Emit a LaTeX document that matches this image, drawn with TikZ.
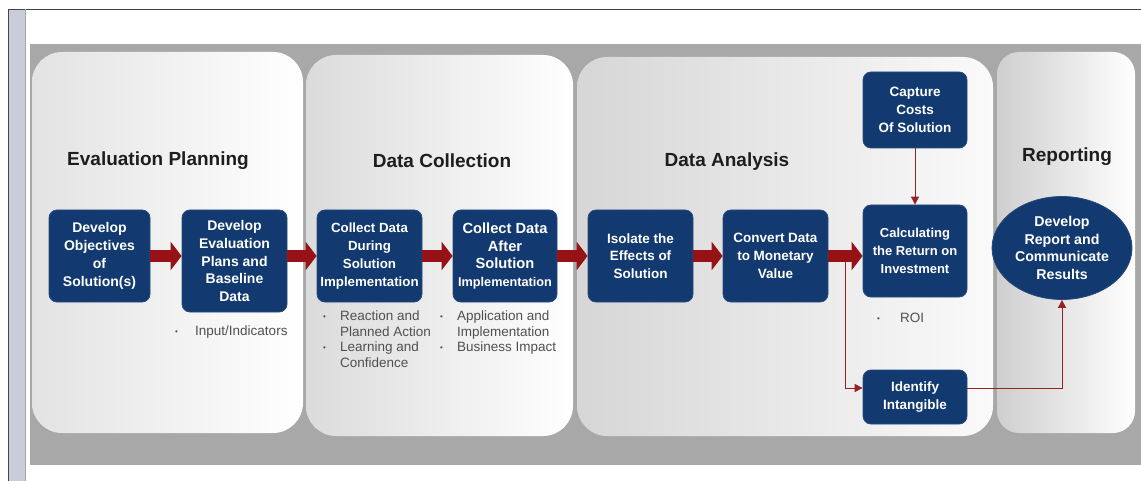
\documentclass[tikz,border=0pt]{standalone}
\usepackage{fontspec}
\setmainfont{Liberation Sans}
\usetikzlibrary{arrows.meta,shapes.geometric}

\definecolor{navy}{RGB}{18,58,112}
\definecolor{navyedge}{RGB}{40,75,125}
\definecolor{arrowred}{RGB}{150,18,22}
\definecolor{linered}{RGB}{150,35,35}
\definecolor{bandgray}{RGB}{168,168,168}
\definecolor{barblue}{RGB}{200,205,216}
\definecolor{framegray}{RGB}{70,70,70}
\definecolor{titlegray}{RGB}{30,30,30}
\definecolor{notegray}{RGB}{80,80,80}

\newcommand\bul[1]{\makebox[#1][l]{\raisebox{1pt}{\fontsize{8}{8}\selectfont •}}}
\newcommand\fs[1]{\fontsize{#1}{17.8}\selectfont}

\begin{document}
\begin{tikzpicture}[x=1pt,y=-1pt,
  panel/.style={rounded corners=30pt, right color=white},
  stepbox/.style={rectangle, rounded corners=8pt, fill=navy, draw=navyedge,
    line width=0.8pt, text=white, align=center, inner sep=1pt,
    font=\bfseries\fontsize{13.5}{17.8}\selectfont},
  phase/.style={font=\bfseries\fontsize{19}{22}\selectfont, text=titlegray},
  note/.style={text=notegray, font=\fontsize{13.5}{15.5}\selectfont,
    align=left, inner sep=0pt},
  fatarrow/.style={draw=arrowred, line width=12pt,
    -{Triangle[width=28pt,length=11pt]}},
  thinarrow/.style={draw=linered, line width=1pt,
    -{Triangle[width=8pt,length=8pt]}}]
\useasboundingbox (0,0) rectangle (1141,481);

% page frame and side bar
\fill[barblue] (8,9) rectangle (25,481);
\draw[framegray, line width=0.8pt] (8,481) -- (8,9) -- (1141,9);
\draw[gray!70, line width=0.6pt] (25,9) -- (25,481);

% grey band behind the phases
\fill[bandgray] (30,44) rectangle (1141,465);

% phase panels
\path[panel, left color=gray!22] (32,52) rectangle (303,433);
\path[panel, left color=gray!28] (306,55) rectangle (573,436);
\path[panel, left color=gray!32, right color=gray!4] (577,57) rectangle (993,436);
\path[panel, rounded corners=22pt, left color=gray!38] (997,52) rectangle (1135,433);

% phase titles
\node[phase] (t1) at (158,161) {Evaluation Planning};
\node[phase] (t2) at (442,161) {Data Collection};
\node[phase] (t3) at (727,162) {Data Analysis};
\node[phase] (t4) at (1067,157) {Reporting};

% process steps
\node[stepbox, minimum width=101pt, minimum height=92pt, font=\bfseries\fs{14}] (b1) at (99.5,256)
  {Develop\\Objectives\\of\\Solution(s)};
\node[stepbox, minimum width=105pt, minimum height=102pt, font=\bfseries\fs{14}] (b2) at (234.5,261)
  {Develop\\Evaluation\\Plans and\\Baseline\\Data};
\node[stepbox, minimum width=105pt, minimum height=92pt, font=\bfseries\fs{13.3}] (b3) at (369.5,256)
  {Collect Data\\During\\Solution\\Implementation};
\node[stepbox, minimum width=104pt, minimum height=92pt] (b4) at (505,256)
  {\fs{14.7}Collect Data\\\fs{14.7}After\\\fs{14.7}Solution\\\fs{12.7}Implementation};
\node[stepbox, minimum width=105pt, minimum height=92pt] (b5) at (640.5,256)
  {Isolate the\\Effects of\\Solution};
\node[stepbox, minimum width=105pt, minimum height=92pt] (b6) at (775.5,256)
  {Convert Data\\to Monetary\\Value};
\node[stepbox, minimum width=104pt, minimum height=92pt, font=\bfseries\fs{13}] (b7) at (915,251)
  {Calculating\\the Return on\\Investment};
\node[stepbox, minimum width=104pt, minimum height=76pt] (b8) at (915,110)
  {Capture\\Costs\\Of Solution};
\node[stepbox, minimum width=104pt, minimum height=54pt] (b9) at (915,397)
  {Identify\\Intangible};
\node[stepbox, ellipse, minimum width=140pt, minimum height=103pt, inner sep=0pt, font=\bfseries\fs{14.2}] (rep) at (1062,248)
  {Develop\\Report and\\Communicate\\Results};

% measures under the steps
\node[note, anchor=west] (n2) at (175,332) {\bul{20pt}Input/Indicators};
\node[note, anchor=north west] (n3) at (323,311)
  {\bul{17pt}Reaction and\\\hspace*{17pt}Planned Action\\\bul{17pt}Learning and\\\hspace*{17pt}Confidence};
\node[note, anchor=north west] (n4) at (440,311)
  {\bul{17pt}Application and\\\hspace*{17pt}Implementation\\\bul{17pt}Business Impact};
\node[note, anchor=west] (n7) at (877,318) {\bul{23pt}ROI};

% side flows
\coordinate (br) at (845,256);
\draw[thinarrow] (b8.south) -- (b7.north);
\draw[thinarrow] (br) |- ([yshift=9pt]b9.west);
\draw[thinarrow] ([yshift=9pt]b9.east) -| (rep.south);

% main flow
\draw[fatarrow] (b1.east) -- (b1.east -| b2.west);
\draw[fatarrow] (b3.west -| b2.east) -- (b3.west);
\draw[fatarrow] (b3.east) -- (b4.west);
\draw[fatarrow] (b4.east) -- (b5.west);
\draw[fatarrow] (b5.east) -- (b6.west);
\draw[fatarrow] (b6.east) -- (b6.east -| b7.west);
\end{tikzpicture}
\end{document}
